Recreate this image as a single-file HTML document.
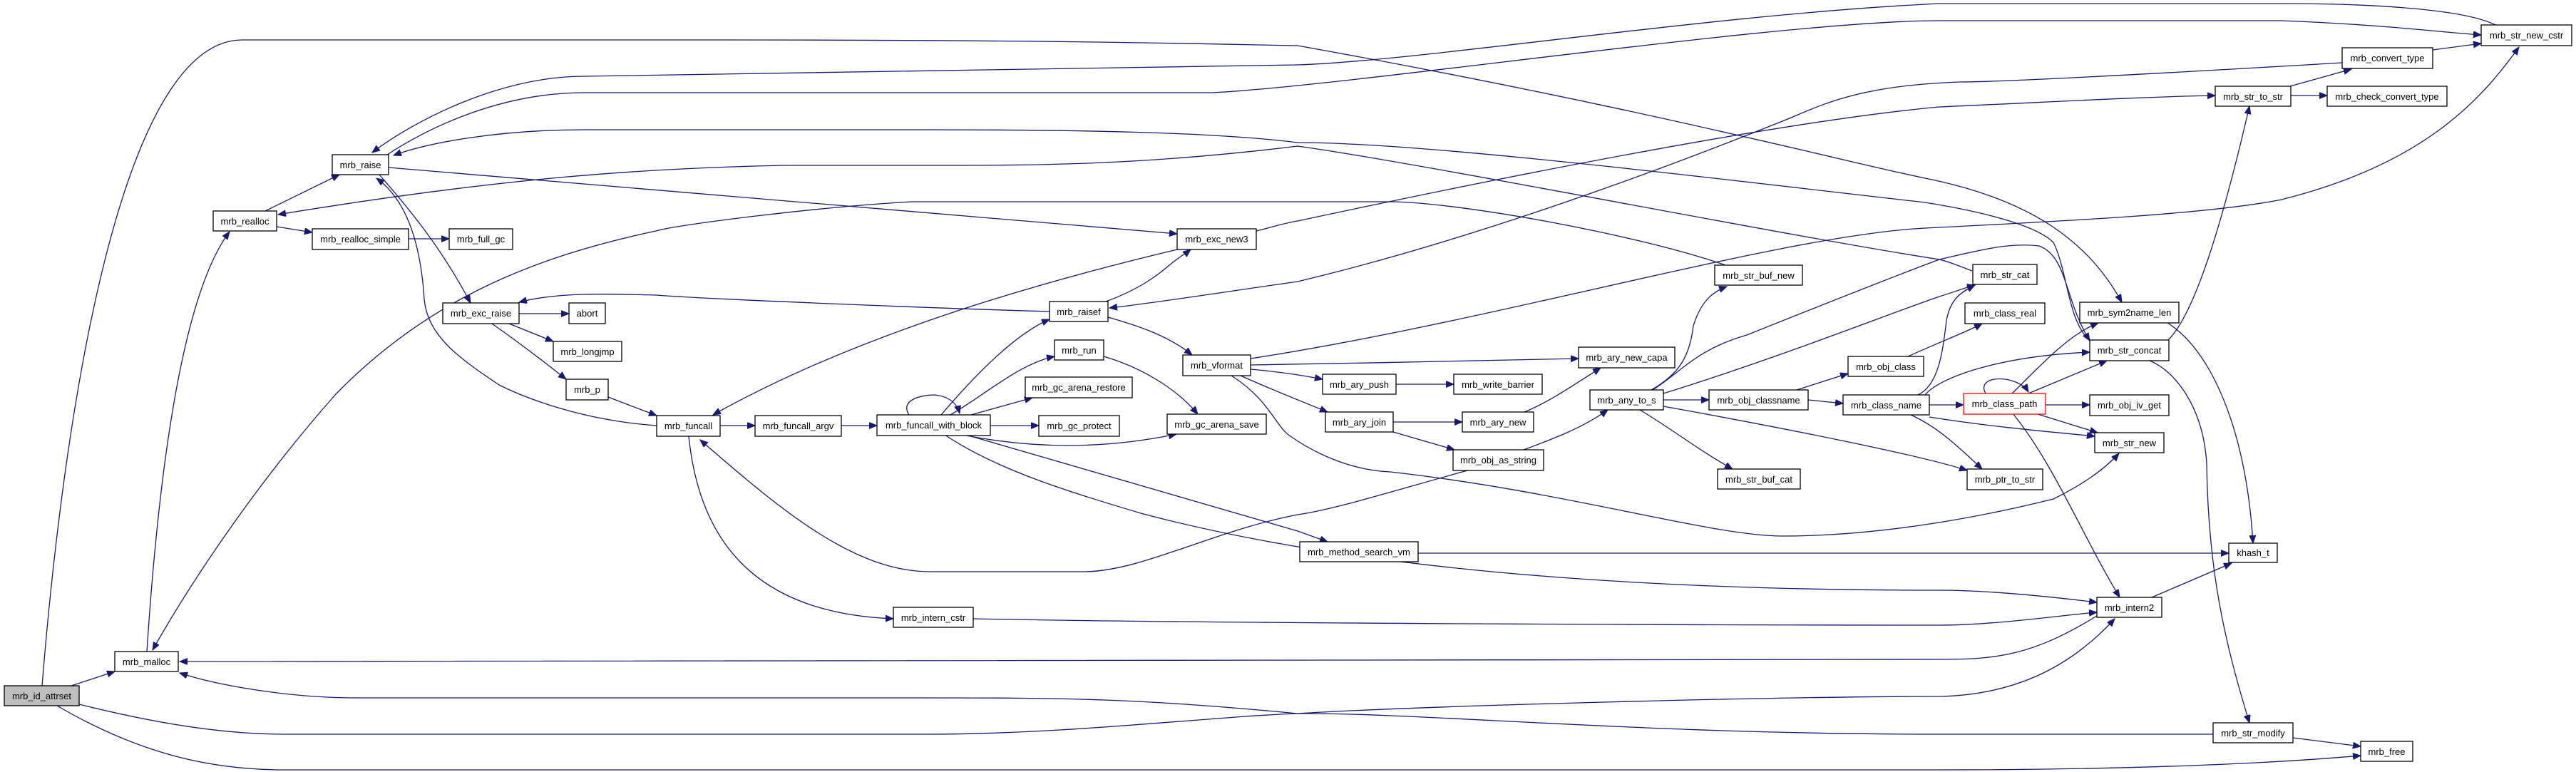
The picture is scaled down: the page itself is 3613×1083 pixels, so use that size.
<!DOCTYPE html>
<html><head><meta charset="utf-8"><style>
html,body{margin:0;padding:0;background:#fff;}
svg{display:block;}
text{font-family:"Liberation Sans",Arial,sans-serif;font-size:13px;fill:#000;}
.e{fill:none;stroke:#191970;stroke-width:1.3;}
.n{fill:#fff;stroke:#000;stroke-width:1.3;}
</style></head><body>
<svg width="3613" height="1083" viewBox="0 0 3613 1083" xmlns="http://www.w3.org/2000/svg">
<defs><marker id="a" markerUnits="userSpaceOnUse" markerWidth="12" markerHeight="10" refX="11" refY="4.5" orient="auto"><path d="M0,0 L11,4.5 L0,9 Z" fill="#191970" stroke="#191970"/></marker></defs>
<g class="e" marker-end="url(#a)">
<path d="M100,962 L161,942"/>
<path d="M59,962 C80,700 150,56 340,56 L1000,56 C1500,56 1700,62 1820,64 C2300,150 2600,230 2700,250 C2850,280 2930,340 2976,424"/>
<path d="M543,217 C600,180 700,130 820,130 L1700,130 C1900,120 2500,29 2720,29 L3200,29 C3350,35 3420,45 3480,49"/>
<path d="M3500,35 C3450,10 3300,5 3200,5 L2720,5 C2400,20 2000,85 1820,91 L820,107 C700,107 580,170 522,214"/>
<path d="M2931,478 C2900,450 2900,380 2880,340 C2860,320 2800,300 2700,284 C2400,250 2000,200 1820,200 C1700,185 1500,182 1300,182 L820,182 C700,182 600,200 552,218"/>
<path d="M2766,380 C2745,372 2730,366 2720,364 C2500,330 2000,230 1820,205 C1600,232 1450,232 1300,232 L1100,232 C900,236 700,250 390,301"/>
<path d="M545,235 L1651,328"/>
<path d="M2420,372 C2300,330 2050,284 1950,283 L1280,283 C1150,290 950,315 920,324 C750,360 600,420 470,554 C350,690 260,830 214,912"/>
<path d="M1754,503 C2100,450 2500,330 2700,320 C2900,310 3100,300 3200,280 C3400,230 3480,140 3533,66"/>
<path d="M1754,512 C1900,510 2100,505 2214,503"/>
<path d="M1754,518 C1800,522 1830,527 1855,532"/>
<path d="M1740,527 C1780,545 1830,565 1862,578"/>
<path d="M1727,527 C1780,560 1790,600 1810,612 C1850,640 1900,660 1950,662 C2200,690 2400,752 2500,752 C2650,752 2800,720 2880,700 C2920,680 2950,660 2972,636"/>
<path d="M1472,437 C1300,432 1000,420 920,414 C850,412 780,410 728,424"/>
<path d="M1551,423 C1600,405 1625,385 1640,372 C1655,360 1665,354 1670,350"/>
<path d="M1554,445 C1600,458 1640,472 1672,498"/>
<path d="M3285,88 C3000,105 2800,115 2750,115 C2600,120 2550,150 2500,170 C2300,250 2050,340 1820,395 C1700,412 1620,425 1556,432"/>
<path d="M1762,324 C1780,320 1800,313 1820,310 C2100,250 2500,170 2720,150 C2900,142 3000,136 3107,134"/>
<path d="M1651,350 C1450,398 1200,470 1000,582"/>
<path d="M921,597 C820,590 740,560 700,540 C640,500 600,470 595,420 C590,340 570,280 528,250"/>
<path d="M532,245 C580,300 620,350 660,425"/>
<path d="M728,440 L798,440"/>
<path d="M714,454 L776,479"/>
<path d="M690,454 C720,475 760,505 794,532"/>
<path d="M853,557 L921,583"/>
<path d="M372,296 L476,245"/>
<path d="M388,318 L438,326"/>
<path d="M573,335 L630,335"/>
<path d="M206,914 C220,700 250,420 322,325"/>
<path d="M1010,597 L1059,597"/>
<path d="M1180,597 L1230,597"/>
<path d="M1275,582 C1262,562 1290,554 1311,554 C1330,556 1342,565 1346,580"/>
<path d="M1320,582 C1360,535 1420,470 1472,448"/>
<path d="M1333,582 C1380,555 1430,510 1479,500"/>
<path d="M1362,582 L1448,558"/>
<path d="M1389,597 L1457,597"/>
<path d="M1350,610 C1450,630 1550,630 1650,609"/>
<path d="M1548,500 C1600,515 1650,545 1680,581"/>
<path d="M1355,610 L1820,745 L1862,760"/>
<path d="M1325,610 C1400,660 1500,690 1600,720 C1900,800 2300,828 2720,828 C2800,828 2900,840 2941,845"/>
<path d="M2058,660 C1950,690 1870,715 1820,722 C1700,745 1600,802 1520,802 L1305,802 C1200,802 1100,720 982,617"/>
<path d="M966,612 C980,750 1050,860 1253,868"/>
<path d="M1365,868 C1700,875 2500,877 2720,877 C2800,877 2900,862 2941,859"/>
<path d="M2941,864 C2850,920 2800,925 2720,925 L252,928"/>
<path d="M111,988 C200,1010 300,1030 400,1030 L1300,1030 C1500,1030 1700,1005 1820,1001 C2000,990 2500,977 2720,977 C2820,975 2900,940 2966,868"/>
<path d="M3104,1030 L2720,1030 C2300,1030 2000,1000 1820,1001 C1600,980 1500,979 1300,979 L500,979 C400,979 300,960 252,944"/>
<path d="M80,990 C200,1060 300,1080 400,1080 L2720,1080 C3000,1080 3200,1070 3311,1060"/>
<path d="M3216,1035 L3311,1047"/>
<path d="M1989,776 L3126,776"/>
<path d="M3040,453 C3100,490 3150,600 3160,762"/>
<path d="M3018,838 L3130,790"/>
<path d="M3040,478 C3080,440 3120,300 3155,149"/>
<path d="M3015,506 C3050,520 3090,570 3095,650 C3097,800 3120,900 3155,1014"/>
<path d="M3212,121 L3298,97"/>
<path d="M3213,134 L3264,134"/>
<path d="M3412,70 L3480,61"/>
<path d="M1958,539 L2039,539"/>
<path d="M1954,592 L2051,592"/>
<path d="M1954,606 L2040,631"/>
<path d="M2138,578 C2170,565 2200,545 2245,516"/>
<path d="M2137,631 C2180,615 2220,600 2255,575"/>
<path d="M2316,547 C2355,525 2370,500 2375,457 C2385,425 2400,410 2422,402"/>
<path d="M2318,547 C2360,520 2380,490 2450,470 C2550,430 2650,390 2720,364 C2780,350 2820,340 2860,345 C2900,360 2895,420 2931,478"/>
<path d="M2333,552 C2500,500 2650,440 2720,416 C2740,410 2755,404 2770,400"/>
<path d="M2333,561 L2397,561"/>
<path d="M2300,575 C2350,605 2380,630 2430,658"/>
<path d="M2333,570 C2500,600 2700,640 2759,660"/>
<path d="M2520,547 L2592,524"/>
<path d="M2536,561 L2585,566"/>
<path d="M2676,500 C2720,480 2760,465 2780,454"/>
<path d="M2690,554 C2720,540 2725,490 2730,450 C2735,420 2750,410 2770,400"/>
<path d="M2700,554 C2720,530 2800,500 2931,494"/>
<path d="M2706,568 L2754,568"/>
<path d="M2706,585 C2800,600 2900,608 2938,612"/>
<path d="M2680,582 C2720,600 2750,630 2780,658"/>
<path d="M2785,552 C2770,525 2830,525 2845,550"/>
<path d="M2822,552 C2860,515 2900,470 2943,453"/>
<path d="M2845,552 L2955,506"/>
<path d="M2869,568 L2931,568"/>
<path d="M2855,580 L2942,607"/>
<path d="M2823,580 C2880,650 2920,750 2973,838"/>
</g>
<g>
<rect x="6" y="962" width="105" height="28" fill="#bfbfbf" stroke="#000" stroke-width="1.3"/>
<text x="58.5" y="981" text-anchor="middle">mrb_id_attrset</text>
</g>
<g id="nodes"></g>
<g text-anchor="middle">
<rect class="n" x="161" y="914" width="89" height="28"/><text x="205.5" y="933">mrb_malloc</text>
<rect class="n" x="299" y="296" width="89" height="28"/><text x="343.5" y="315">mrb_realloc</text>
<rect class="n" x="466" y="217" width="79" height="28"/><text x="505.5" y="236">mrb_raise</text>
<rect class="n" x="438" y="321" width="135" height="29"/><text x="505.5" y="340">mrb_realloc_simple</text>
<rect class="n" x="630" y="321" width="89" height="29"/><text x="674.5" y="340">mrb_full_gc</text>
<rect class="n" x="621" y="425" width="107" height="29"/><text x="674.5" y="444">mrb_exc_raise</text>
<rect class="n" x="798" y="425" width="51" height="29"/><text x="823.5" y="444">abort</text>
<rect class="n" x="776" y="479" width="96" height="28"/><text x="824" y="498">mrb_longjmp</text>
<rect class="n" x="794" y="532" width="59" height="29"/><text x="823.5" y="551">mrb_p</text>
<rect class="n" x="921" y="583" width="89" height="29"/><text x="965.5" y="602">mrb_funcall</text>
<rect class="n" x="1059" y="583" width="121" height="29"/><text x="1119.5" y="602">mrb_funcall_argv</text>
<rect class="n" x="1230" y="582" width="159" height="29"/><text x="1309.5" y="601">mrb_funcall_with_block</text>
<rect class="n" x="1457" y="583" width="113" height="29"/><text x="1513.5" y="602">mrb_gc_protect</text>
<rect class="n" x="1438" y="529" width="150" height="29"/><text x="1513" y="548">mrb_gc_arena_restore</text>
<rect class="n" x="1479" y="477" width="69" height="28"/><text x="1513.5" y="496">mrb_run</text>
<rect class="n" x="1472" y="423" width="82" height="28"/><text x="1513" y="442">mrb_raisef</text>
<rect class="n" x="1651" y="321" width="111" height="29"/><text x="1706.5" y="340">mrb_exc_new3</text>
<rect class="n" x="1659" y="498" width="95" height="29"/><text x="1706.5" y="517">mrb_vformat</text>
<rect class="n" x="1637" y="581" width="139" height="28"/><text x="1706.5" y="600">mrb_gc_arena_save</text>
<rect class="n" x="1253" y="852" width="112" height="28"/><text x="1309" y="871">mrb_intern_cstr</text>
<rect class="n" x="2405" y="372" width="123" height="28"/><text x="2466.5" y="391">mrb_str_buf_new</text>
<rect class="n" x="2214" y="487" width="135" height="29"/><text x="2281.5" y="506">mrb_ary_new_capa</text>
<rect class="n" x="1855" y="525" width="103" height="28"/><text x="1906.5" y="544">mrb_ary_push</text>
<rect class="n" x="2039" y="525" width="124" height="28"/><text x="2101" y="544">mrb_write_barrier</text>
<rect class="n" x="1859" y="578" width="95" height="28"/><text x="1906.5" y="597">mrb_ary_join</text>
<rect class="n" x="2051" y="578" width="100" height="28"/><text x="2101" y="597">mrb_ary_new</text>
<rect class="n" x="2038" y="631" width="127" height="29"/><text x="2101.5" y="650">mrb_obj_as_string</text>
<rect class="n" x="2230" y="547" width="103" height="28"/><text x="2281.5" y="566">mrb_any_to_s</text>
<rect class="n" x="2397" y="547" width="139" height="28"/><text x="2466.5" y="566">mrb_obj_classname</text>
<rect class="n" x="2592" y="500" width="106" height="28"/><text x="2645" y="519">mrb_obj_class</text>
<rect class="n" x="2585" y="554" width="121" height="28"/><text x="2645.5" y="573">mrb_class_name</text>
<rect class="n" x="2409" y="658" width="116" height="28"/><text x="2467" y="677">mrb_str_buf_cat</text>
<rect class="n" x="1823" y="760" width="166" height="28"/><text x="1906" y="779">mrb_method_search_vm</text>
<rect class="n" x="3480" y="35" width="127" height="29"/><text x="3543.5" y="54">mrb_str_new_cstr</text>
<rect class="n" x="3285" y="67" width="127" height="29"/><text x="3348.5" y="86">mrb_convert_type</text>
<rect class="n" x="3107" y="121" width="106" height="28"/><text x="3160" y="140">mrb_str_to_str</text>
<rect class="n" x="3264" y="121" width="168" height="28"/><text x="3348" y="140">mrb_check_convert_type</text>
<rect class="n" x="2767" y="371" width="90" height="28"/><text x="2812" y="390">mrb_str_cat</text>
<rect class="n" x="2756" y="425" width="112" height="29"/><text x="2812" y="444">mrb_class_real</text>
<rect class="n" x="2917" y="424" width="139" height="29"/><text x="2986.5" y="443">mrb_sym2name_len</text>
<rect class="n" x="2931" y="477" width="111" height="29"/><text x="2986.5" y="496">mrb_str_concat</text>
<rect x="2754" y="552" width="115" height="29" fill="#fff" stroke="#ff0000" stroke-width="1.3"/><text x="2811.5" y="571">mrb_class_path</text>
<rect class="n" x="2931" y="554" width="111" height="29"/><text x="2986.5" y="573">mrb_obj_iv_get</text>
<rect class="n" x="2938" y="607" width="97" height="28"/><text x="2986.5" y="626">mrb_str_new</text>
<rect class="n" x="2759" y="658" width="106" height="29"/><text x="2812" y="677">mrb_ptr_to_str</text>
<rect class="n" x="3126" y="762" width="68" height="27"/><text x="3160" y="780">khash_t</text>
<rect class="n" x="2941" y="838" width="91" height="28"/><text x="2986.5" y="857">mrb_intern2</text>
<rect class="n" x="3104" y="1014" width="112" height="28"/><text x="3160" y="1033">mrb_str_modify</text>
<rect class="n" x="3311" y="1040" width="73" height="28"/><text x="3347.5" y="1059">mrb_free</text>
</g>
</svg>
</body></html>
